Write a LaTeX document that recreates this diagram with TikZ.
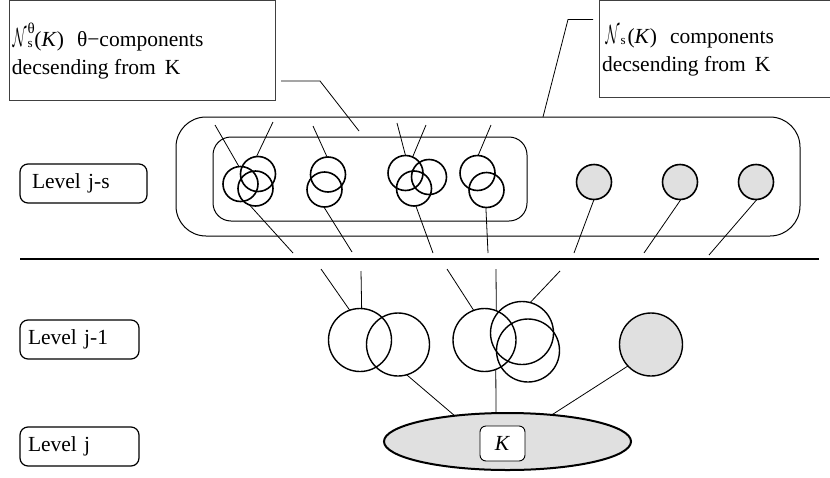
\documentclass[tikz,border=0pt]{standalone}
\usepackage{fontspec}
\usepackage{graphicx}
\setmainfont{Liberation Serif}
\usetikzlibrary{shapes.geometric}
\definecolor{shade}{RGB}{224,224,224}
% calligraphic N with a small upright superscript / subscript pair
\newcommand{\calN}{\resizebox{14pt}{18pt}{$\mathcal{N}$}}
\newcommand{\supsub}[2]{\makebox[8pt][l]{\hspace{1pt}\rlap{\raisebox{13pt}{\fontsize{15}{15}\selectfont #1}}\raisebox{-1pt}{\fontsize{13}{13}\selectfont #2}}}
\begin{document}
\begin{tikzpicture}[x=1pt,y=-1pt,
  every node/.style={font=\fontsize{21.5}{28}\selectfont},
  txt/.style={anchor=base west, inner sep=0pt, outer sep=0pt},
  tbox/.style={draw=black!75, line width=0.9pt, rectangle, inner sep=0pt, outer sep=0pt, anchor=north west},
  lvl/.style={draw, line width=1.2pt, rounded corners=8pt, rectangle, inner sep=0pt, outer sep=0pt,
              anchor=north west, text width=103pt, align=left, minimum height=39pt},
  region/.style={draw, line width=1pt, rectangle, inner sep=0pt, outer sep=0pt},
  comp/.style={draw, circle, line width=1.6pt, minimum size=35pt, inner sep=0pt, outer sep=0pt},
  gcomp/.style={comp, fill=shade},
  bigcomp/.style={draw, circle, line width=1.4pt, minimum size=63pt, inner sep=0pt, outer sep=0pt},
  link/.style={line width=0.8pt},
]
\useasboundingbox (0,0) rectangle (830,477);

% ---- annotation boxes ----
\node[tbox, minimum width=265.5pt, minimum height=99.5pt] (lbox) at (9.5,0.5) {};
\node[txt] (ltxt1) at (12.5,46) {\calN\supsub{θ}{s}(\textit{K})\hspace{13pt}θ−components};
\node[txt] (ltxt2) at (12,74) {decsending from\hspace{9pt}K};

\node[tbox, minimum width=240pt, minimum height=96.5pt] (rbox) at (599,0.5) {};
\node[txt] (rtxt1) at (605.5,43) {\calN\supsub{}{s}(\textit{K})\hspace{13pt}components};
\node[txt] (rtxt2) at (602,71) {decsending from\hspace{9pt}K};

% ---- level labels ----
\node[lvl, minimum width=127pt] (ljs) at (20,164) {Level j-s};
\node[lvl, minimum width=119pt] (lj1) at (20,320) {Level j-1};
\node[lvl, minimum width=119pt] (lj)  at (20,427) {Level j};

% ---- level j-s regions ----
\node[region, rounded corners=30pt, minimum width=624pt, minimum height=119pt] (outer) at (488,176.5) {};
\node[region, rounded corners=18pt, minimum width=314pt, minimum height=84pt] (inner) at (370,179) {};

% ---- separator ----
\coordinate (sepL) at (20,259);
\coordinate (sepR) at (819,259);
\draw[line width=1.2pt] (sepL) -- (sepR);

% ---- theta-components ----
\node[comp] (A) at (240.5,184) {};
\node[comp] (B) at (258,174) {};
\node[comp] (C) at (255.5,188.5) {};
\node[comp] (D) at (328,174.5) {};
\node[comp] (E) at (324.5,189.5) {};
\node[comp] (F) at (405.5,173) {};
\node[comp] (G) at (429,177) {};
\node[comp] (H) at (414,188.5) {};
\node[comp] (I) at (477.5,173) {};
\node[comp] (J) at (486.5,190) {};
% ---- other components ----
\node[gcomp] (K1) at (594,182) {};
\node[gcomp] (K2) at (680,182) {};
\node[gcomp] (K3) at (756,182) {};

% free ends of the links at level j-s
\coordinate (u1) at (215,125);
\coordinate (u2) at (273,122);
\coordinate (u3) at (313,126);
\coordinate (u4) at (397,123);
\coordinate (u5) at (426,125);
\coordinate (u6) at (491,125);
\coordinate (d1) at (293,253);
\coordinate (d2) at (352,252);
\coordinate (d3) at (433,253);
\coordinate (d4) at (488,253);
\coordinate (d5) at (574,253);
\coordinate (d6) at (644,253);
\coordinate (d7) at (709,255);

\draw[link] (u1) -- (A.95);
\draw[link] (u2) -- (B.95);
\draw[link] (u3) -- (D.93);
\draw[link] (u4) -- (F.90);
\draw[link] (u5) -- (F.66);
\draw[link] (u6) -- (I.88);
\draw[link] (C.250) -- (d1);
\draw[link] (E.268) -- (d2);
\draw[link] (H.276) -- (d3);
\draw[link] (J.268) -- (d4);
\draw[link] (K1.270) -- (d5);
\draw[link] (K2.273) -- (d6);
\draw[link] (K3.273) -- (d7);

% ---- level j-1 ----
\node[bigcomp] (L1) at (360,340) {};
\node[bigcomp] (L2) at (398,344.5) {};
\node[bigcomp] (L3) at (484.5,340) {};
\node[bigcomp] (L4) at (522,333) {};
\node[bigcomp] (L5) at (528,350.5) {};
\node[bigcomp, fill=shade] (L6) at (651,344.5) {};

\coordinate (v1) at (321,269);
\coordinate (v2) at (361,271);
\coordinate (v3) at (447,269);
\coordinate (v4) at (496,269);
\coordinate (v5) at (560,271);
\draw[link] (v1) -- (L1.109);
\draw[link] (v2) -- (L1.87);
\draw[link] (v3) -- (L3.110);
\draw[link] (v4) -- (L3.68);
\draw[link] (v5) -- (L4.75);

% ---- level j ----
\node[ellipse, draw, line width=2pt, fill=shade, minimum width=247pt, minimum height=57pt,
      inner sep=0pt, outer sep=0pt] (Kell) at (507.5,441.5) {};
\node[draw, rounded corners=6pt, fill=white, line width=0.9pt, minimum width=45pt,
      minimum height=35pt, inner sep=0pt] (Kbox) at (502.5,443.5) {\textit{K}};

\draw[link] (L2.286) -- (Kell.154);
\draw[link] (L3.291) -- (Kell.112);
\draw[link] (L6.223) -- (Kell.31.5);

% ---- annotation leaders ----
\coordinate (lend) at (359,131);
\draw[link] ([shift={(6pt,19pt)}]lbox.south east) -- ++(39,0) -- (lend);
\draw[link] ([shift={(-6pt,-19pt)}]rbox.north west) -- ++(-25,0) -- ([xshift=55pt]outer.north);
\end{tikzpicture}
\end{document}
